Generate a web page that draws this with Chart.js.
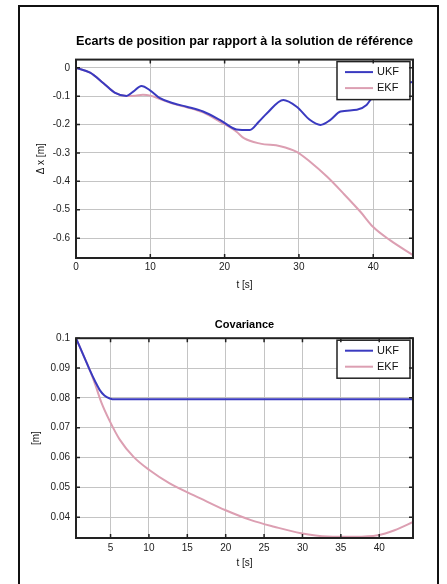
<!DOCTYPE html>
<html><head><meta charset="utf-8">
<script src="https://cdn.jsdelivr.net/npm/chart.js@4"></script>
<style>
html,body{margin:0;padding:0;background:#fff;overflow:hidden;width:447px;height:584px}
#frame{position:absolute;left:18px;top:5px;width:417px;height:640px;border:2px solid #111}
canvas{position:absolute;left:0}
</style></head><body>
<div id="frame"></div>
<canvas id="c1" width="447" height="300" style="top:0;width:447px;height:300px"></canvas>
<canvas id="c2" width="447" height="294" style="top:290px;width:447px;height:294px"></canvas>
<script>
// ---- Top chart: position error ----
const title1 = 'Ecarts de position par rapport à la solution de référence';
const ukfPosT = [0,1.9,3.7,5.2,6.8,7.7,8.8,10,11.3,13.1,14.9,17.1,19.4,21.6,23.4,24.6,25.7,27.9,29.7,31.5,32.9,34.2,35.6,37.8,39.1,39.8,41.5,43.5,45.35];
const ukfPos  = [0,-0.017,-0.054,-0.087,-0.099,-0.084,-0.064,-0.08,-0.107,-0.125,-0.137,-0.154,-0.184,-0.217,-0.219,-0.19,-0.16,-0.113,-0.137,-0.184,-0.201,-0.184,-0.154,-0.148,-0.131,-0.107,-0.08,-0.06,-0.05];
const ekfPosT = [0,1.9,3.7,5.2,6.8,8,9,10,11.3,13.1,14.9,17.1,19.4,21.6,22.6,24.8,27.5,29.7,31.5,33.8,36,38.3,40,42.3,45.35];
const ekfPos  = [0,-0.017,-0.054,-0.087,-0.099,-0.098,-0.095,-0.098,-0.11,-0.127,-0.139,-0.157,-0.19,-0.225,-0.248,-0.267,-0.276,-0.296,-0.331,-0.384,-0.443,-0.508,-0.561,-0.608,-0.66];
const xTicks1 = [0,10,20,30,40];
const xLabels1 = ['0','10','20','30','40'];
const yTicks1 = [0,-0.1,-0.2,-0.3,-0.4,-0.5,-0.6];
const yLabels1 = ['0','-0.1','-0.2','-0.3','-0.4','-0.5','-0.6'];

// ---- Bottom chart: covariance ----
const title2 = 'Covariance';
const ukfCovT = [0.5,1.6,2.3,3.0,3.6,4.2,4.9,5.6,10,20,30,40,44.4];
const ukfCov  = [0.1,0.0935,0.0893,0.0855,0.0826,0.0808,0.0798,0.0795,0.0795,0.0795,0.0795,0.0795,0.0795];
const ekfCovT = [0.5,1.6,2.3,3.0,3.8,4.9,6.2,8.0,10.1,12.7,16.7,20,23.3,26.3,29.8,33.3,36.8,39.8,42,44.4];
const ekfCov  = [0.1,0.0935,0.0893,0.0845,0.0785,0.0722,0.066,0.0602,0.0557,0.0513,0.0463,0.0423,0.039,0.0368,0.0346,0.0335,0.0334,0.0339,0.0356,0.0384];
const xTicks2 = [5,10,15,20,25,30,35,40];
const xLabels2 = ['5','10','15','20','25','30','35','40'];
const yTicks2 = [0.1,0.09,0.08,0.07,0.06,0.05,0.04];
const yLabels2 = ['0.1','0.09','0.08','0.07','0.06','0.05','0.04'];

const seriesNames = ['UKF','EKF'];
const seriesColors = ['#3a3ac0','#dc9fb2'];
const FAM = '"Liberation Sans", Arial, sans-serif';

const framePlugin = {
  id: 'frame',
  afterDraw(chart) {
    const {ctx, chartArea: a, scales: {x, y}} = chart;
    ctx.save();
    // legend box
    const w = 73, h = 38;
    const lx = a.right - 3 - w, ly = a.top + 2;
    ctx.fillStyle = '#fff';
    ctx.fillRect(lx, ly, w, h);
    ctx.strokeStyle = '#222'; ctx.lineWidth = 1.5;
    ctx.strokeRect(lx, ly, w, h);
    chart.data.datasets.forEach((ds, i) => {
      const yy = ly + 10.5 + i * 16;
      ctx.strokeStyle = ds.borderColor; ctx.lineWidth = 2;
      ctx.beginPath(); ctx.moveTo(lx + 8, yy); ctx.lineTo(lx + 36, yy); ctx.stroke();
      ctx.fillStyle = '#111'; ctx.font = '11px ' + FAM;
      ctx.textBaseline = 'middle'; ctx.textAlign = 'left';
      ctx.fillText(ds.label, lx + 40, yy);
    });
    // axes box
    ctx.strokeStyle = '#222'; ctx.lineWidth = 2;
    ctx.strokeRect(a.left, a.top, a.right - a.left, a.bottom - a.top);
    // inward tick marks
    ctx.lineWidth = 1.5;
    ctx.beginPath();
    x.ticks.forEach(t => {
      const p = x.getPixelForValue(t.value);
      ctx.moveTo(p, a.bottom); ctx.lineTo(p, a.bottom - 4);
      ctx.moveTo(p, a.top); ctx.lineTo(p, a.top + 4);
    });
    y.ticks.forEach(t => {
      const p = y.getPixelForValue(t.value);
      ctx.moveTo(a.left, p); ctx.lineTo(a.left + 4, p);
      ctx.moveTo(a.right, p); ctx.lineTo(a.right - 4, p);
    });
    ctx.stroke();
    ctx.restore();
  }
};

function pts(t, v) { return t.map((tt, i) => ({x: tt, y: v[i]})); }

function makeChart(id, cfg) {
  const tickFont = {family: FAM, size: 10};
  return new Chart(document.getElementById(id), {
    type: 'line',
    data: {
      datasets: cfg.series.map((s, i) => ({
        label: seriesNames[i],
        data: pts(s[0], s[1]),
        borderColor: seriesColors[i],
        borderWidth: 2,
        pointRadius: 0,
        fill: false,
        cubicInterpolationMode: 'monotone'
      }))
    },
    options: {
      responsive: false,
      animation: false,
      events: [],
      layout: {padding: {left: 0, right: 34, top: 0, bottom: 0}},
      plugins: {
        legend: {display: false},
        tooltip: {enabled: false},
        title: {
          display: true, text: cfg.title, color: '#000', fullSize: false,
          font: {family: FAM, size: cfg.titleSize, weight: 'bold'},
          padding: cfg.titlePad
        }
      },
      scales: {
        x: {
          type: 'linear', min: cfg.xMin, max: cfg.xMax,
          afterBuildTicks: s => { s.ticks = cfg.xTicks.map(v => ({value: v})); },
          afterFit: s => { s.height = cfg.xHeight; },
          ticks: {callback: (v, i) => cfg.xLabels[i], color: '#222', font: tickFont,
                  padding: cfg.xTickPad, maxRotation: 0, autoSkip: false},
          grid: {color: '#c4c4c4', lineWidth: 1, drawTicks: false},
          border: {display: false},
          title: {display: true, text: 't [s]', color: '#111', font: tickFont,
                  padding: {top: 0, bottom: cfg.xTitlePad}}
        },
        y: {
          type: 'linear', min: cfg.yMin, max: cfg.yMax,
          afterBuildTicks: s => { s.ticks = cfg.yTicks.map(v => ({value: v})); },
          afterFit: s => { s.width = 76; },
          ticks: {callback: (v, i) => cfg.yLabels[i], color: '#222', font: tickFont,
                  padding: 6, autoSkip: false},
          grid: {color: '#c4c4c4', lineWidth: 1, drawTicks: false},
          border: {display: false},
          title: {display: true, text: cfg.yTitle, color: '#111', font: tickFont,
                  padding: {top: cfg.yTitlePad, bottom: 0}}
        }
      }
    },
    plugins: [framePlugin]
  });
}

makeChart('c1', {
  title: title1, titleSize: 13, titlePad: {top: 34, bottom: 10},
  series: [[ukfPosT, ukfPos], [ekfPosT, ekfPos]],
  xMin: 0, xMax: 45.35, xTicks: xTicks1, xLabels: xLabels1, xHeight: 42, xTickPad: 3, xTitlePad: 9,
  yMin: -0.67, yMax: 0.029, yTicks: yTicks1, yLabels: yLabels1, yTitle: 'Δ x [m]', yTitlePad: 35
});
makeChart('c2', {
  title: title2, titleSize: 11, titlePad: {top: 28, bottom: 7},
  series: [[ukfCovT, ukfCov], [ekfCovT, ekfCov]],
  xMin: 0.5, xMax: 44.4, xTicks: xTicks2, xLabels: xLabels2, xHeight: 46, xTickPad: 4, xTitlePad: 15,
  yMin: 0.033, yMax: 0.1, yTicks: yTicks2, yLabels: yLabels2, yTitle: '[m]', yTitlePad: 30
});
</script></body></html>
